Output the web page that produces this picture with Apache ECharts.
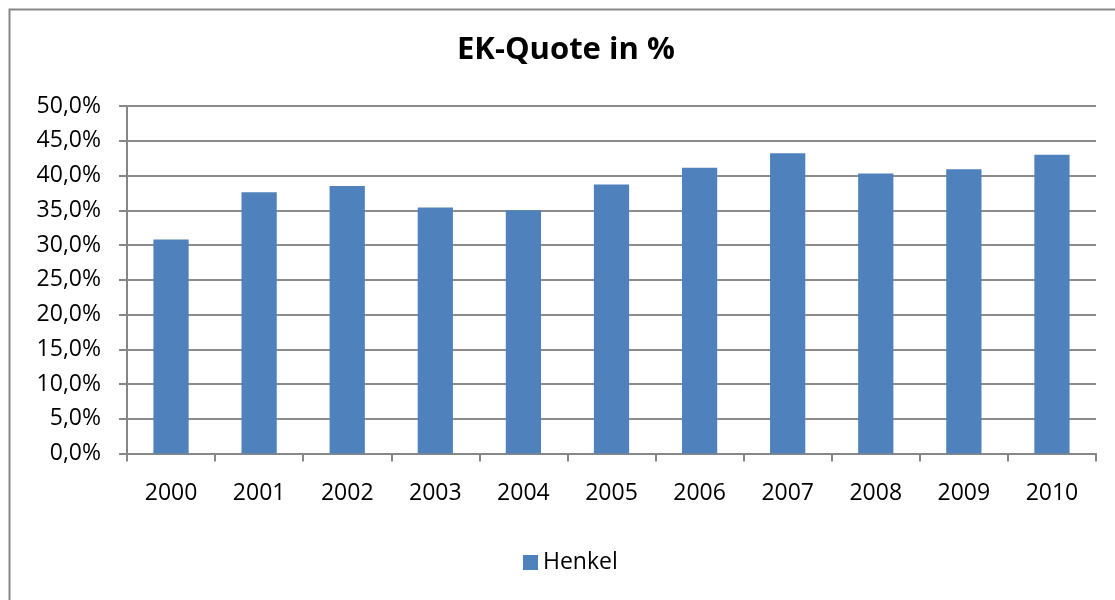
<!DOCTYPE html>
<html>
<head>
<meta charset="utf-8">
<script src="https://cdn.jsdelivr.net/npm/echarts@6/dist/echarts.min.js"></script>
<style>html,body{margin:0;padding:0;background:#fff}#c{width:1115px;height:600px}</style>
</head>
<body>
<div id="c"></div>
<script>
const categories = ['2000','2001','2002','2003','2004','2005','2006','2007','2008','2009','2010'];
const henkel = [30.8, 37.6, 38.5, 35.4, 35.0, 38.7, 41.1, 43.2, 40.3, 40.9, 43.0];
const seriesName = 'Henkel';
const titleText = 'EK-Quote in %';

const chart = echarts.init(document.getElementById('c'));
const font = '"Open Sans", "Liberation Sans", sans-serif';
chart.setOption({
  animation: false,
  backgroundColor: '#fff',
  graphic: [{
    type: 'rect', left: 7, top: 7, silent: true,
    shape: { width: 1120, height: 610 },
    style: { fill: 'none', stroke: '#878787', lineWidth: 2 }
  }],
  title: {
    text: titleText, left: 452, top: 30,
    textStyle: { fontFamily: font, fontSize: 31, fontWeight: 'bold', color: '#000' }
  },
  legend: {
    data: [seriesName], bottom: 21, left: 518,
    itemWidth: 15, itemHeight: 15, itemGap: 7, icon: 'rect',
    textStyle: { fontFamily: font, fontSize: 23, color: '#000' }
  },
  grid: { left: 127, right: 19, top: 106, bottom: 146.5, containLabel: false },
  xAxis: {
    type: 'category', data: categories, boundaryGap: true,
    axisLine: { lineStyle: { color: '#878787', width: 2 } },
    axisTick: { show: true, length: 8, alignWithLabel: false, lineStyle: { color: '#878787', width: 2 } },
    axisLabel: { margin: 28, fontFamily: font, fontSize: 23, color: '#000' }
  },
  yAxis: {
    type: 'value', min: 0, max: 50, interval: 5,
    axisLine: { show: true, lineStyle: { color: '#878787', width: 2 } },
    axisTick: { show: true, length: 8, lineStyle: { color: '#878787', width: 2 } },
    splitLine: { lineStyle: { color: '#8c8c8c', width: 2 } },
    axisLabel: {
      margin: 26, fontFamily: font, fontSize: 23, color: '#000',
      formatter: v => v.toFixed(1).replace('.', ',') + '%'
    }
  },
  series: [{
    name: seriesName, type: 'bar', data: henkel, barWidth: '40%',
    itemStyle: { color: '#4F81BD' }
  }]
});
</script>
</body>
</html>
